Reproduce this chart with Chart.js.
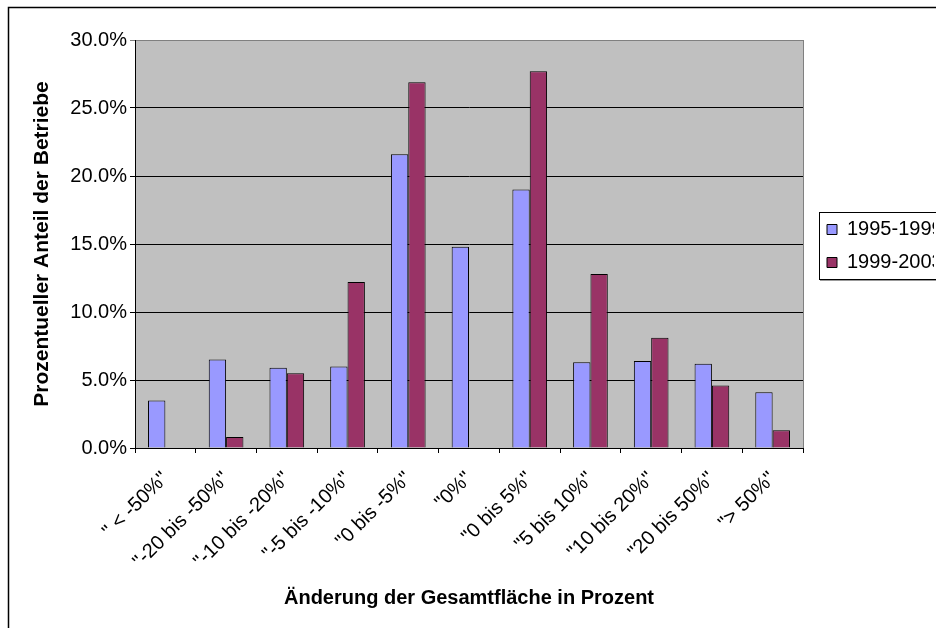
<!DOCTYPE html>
<html>
<head>
<meta charset="utf-8">
<script src="https://cdn.jsdelivr.net/npm/chart.js@4.4.1/dist/chart.umd.min.js"></script>
<style>
  html, body { margin: 0; padding: 0; background: #fff; overflow: hidden; }
  #wrap { position: relative; width: 936px; height: 628px; }
</style>
</head>
<body>
<div id="wrap"><canvas id="chart" width="936" height="628"></canvas></div>
<script>
// Values (percent of farms)
const categories = ['" < -50%"', '"-20 bis -50%"', '"-10 bis -20%"', '"-5 bis -10%"', '"0 bis -5%"', '"0%"',
                    '"0 bis 5%"', '"5 bis 10%"', '"10 bis 20%"', '"20 bis 50%"', '"> 50%"'];
const series1995 = [3.5, 6.5, 5.9, 6.0, 21.6, 14.8, 19.0, 6.3, 6.4, 6.2, 4.1];
const series1999 = [0, 0.8, 5.5, 12.2, 26.9, 0, 27.7, 12.8, 8.1, 4.6, 1.3];
const seriesLabels = ['1995-1999', '1999-2003'];
const yTicks = [0, 5, 10, 15, 20, 25, 30];

Chart.defaults.font.family = "'Liberation Sans', Arial, sans-serif";
Chart.defaults.color = '#000';

// grey plot area + outer frame
const plotBackground = {
    id: 'plotBackground',
    beforeDraw(chart) {
        const { ctx, chartArea: a } = chart;
        ctx.save();
        ctx.fillStyle = '#fff';
        ctx.fillRect(0, 0, chart.width, chart.height);
        ctx.strokeStyle = '#000';
        ctx.lineWidth = 1.5;
        ctx.strokeRect(8.5, 7.5, chart.width + 20, chart.height + 20);
        ctx.fillStyle = '#c0c0c0';
        ctx.fillRect(a.left, a.top, a.right - a.left, a.bottom - a.top);
        ctx.strokeStyle = '#808080';
        ctx.lineWidth = 1;
        ctx.strokeRect(a.left + 0.5, a.top + 0.5, a.right - a.left, a.bottom - a.top);
        ctx.restore();
    }
};

// nudge the legend a bit to the right and draw the box round it
const legendBox = {
    id: 'legendBox',
    afterLayout(chart) {
        const lg = chart.legend;
        lg.left += 11;
        lg.right += 11;
        lg.top += 2;
        lg.bottom += 2;
    },
    afterDraw(chart) {
        const lg = chart.legend;
        const hb = lg.legendHitBoxes;
        if (!hb || !hb.length) return;
        const ctx = chart.ctx;
        const top = hb[0].top - 8;
        const bottom = hb[hb.length - 1].top + hb[hb.length - 1].height + 6;
        ctx.save();
        ctx.strokeStyle = '#000';
        ctx.lineWidth = 1;
        ctx.strokeRect(Math.round(lg.left + 5) + 0.5, Math.round(top) + 0.5, 200, Math.round(bottom - top));
        ctx.strokeStyle = '#999';
        ctx.beginPath();
        ctx.moveTo(Math.round(lg.left + 6), Math.round(bottom) + 1.5);
        ctx.lineTo(chart.width, Math.round(bottom) + 1.5);
        ctx.stroke();
        ctx.restore();
    }
};

new Chart(document.getElementById('chart'), {
    type: 'bar',
    data: {
        labels: categories,
        datasets: [{
            label: seriesLabels[0],
            data: series1995,
            backgroundColor: '#9999ff',
            borderColor: '#000',
            borderWidth: 1,
            categoryPercentage: 0.571,
            barPercentage: 1
        }, {
            label: seriesLabels[1],
            data: series1999,
            backgroundColor: '#993366',
            borderColor: '#000',
            borderWidth: 1,
            categoryPercentage: 0.571,
            barPercentage: 1
        }]
    },
    options: {
        responsive: false,
        animation: false,
        devicePixelRatio: 1,
        layout: { padding: { left: 20, top: 40, right: 13, bottom: 8 } },
        plugins: {
            legend: {
                position: 'right',
                fullSize: false,
                maxWidth: 120,
                labels: { boxWidth: 10, boxHeight: 10, padding: 13, color: '#000', font: { size: 20 } }
            },
            tooltip: { enabled: false }
        },
        scales: {
            x: {
                afterFit(scale) { scale.height = 172; },
                ticks: { color: '#000', font: { size: 20 }, minRotation: 45, maxRotation: 45, autoSkip: false, padding: 14 },
                grid: { drawOnChartArea: false, drawTicks: true, tickLength: 5, color: '#000', offset: true },
                border: { color: '#000', width: 1 },
                title: {
                    display: true,
                    text: 'Änderung der Gesamtfläche in Prozent',
                    color: '#000',
                    font: { size: 20, weight: 'bold' },
                    padding: { top: 0, bottom: 10 }
                }
            },
            y: {
                min: 0,
                max: 30,
                afterBuildTicks(scale) { scale.ticks = yTicks.map(v => ({ value: v })); },
                afterFit(scale) { scale.width = 115; },
                ticks: { color: '#000', font: { size: 20 }, padding: 3, callback: v => v.toFixed(1) + '%' },
                grid: {
                    color: ctx => (ctx.tick && ctx.tick.value === 30) ? '#808080' : '#000',
                    lineWidth: 1,
                    tickLength: 5
                },
                border: { color: '#000', width: 1 },
                title: {
                    display: true,
                    text: 'Prozentueller Anteil der Betriebe',
                    color: '#000',
                    font: { size: 21, weight: 'bold' },
                    padding: { top: 10, bottom: 0 }
                }
            }
        }
    },
    plugins: [plotBackground, legendBox]
});
</script>
</body>
</html>
